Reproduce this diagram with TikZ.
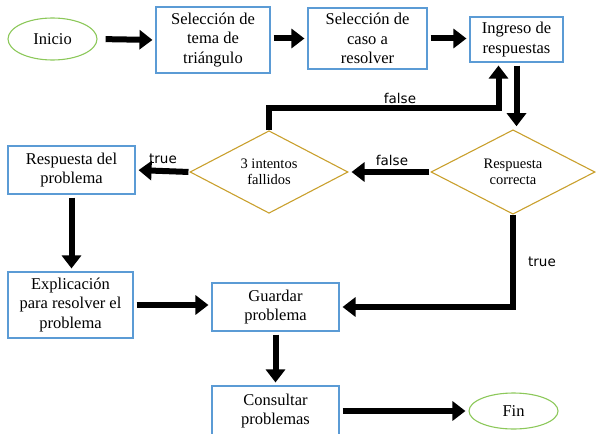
\documentclass[tikz,border=0pt]{standalone}
\usepackage{fontspec}
\setmainfont{Liberation Serif}
\newfontfamily\lblfont{DejaVu Sans}
\usetikzlibrary{arrows.meta,shapes.geometric}
\definecolor{boxblue}{RGB}{91,155,213}
\definecolor{dgold}{RGB}{201,160,45}
\definecolor{egreen}{RGB}{140,200,90}
\begin{document}
\begin{tikzpicture}[x=1pt,y=-1pt,
  procbox/.style={draw=boxblue, line width=1.1pt, align=center, inner sep=0pt,
    font=\fontsize{16.5}{19.5}\selectfont},
  decis/.style={draw=dgold, line width=1.1pt, diamond, align=center, inner sep=0pt,
    font=\fontsize{14.5}{16}\selectfont},
  term/.style={draw=egreen, line width=1.1pt, ellipse, inner sep=0pt,
    font=\fontsize{16.5}{19}\selectfont},
  arr/.style={line width=6pt, line join=miter, -{Triangle[length=13pt,width=19pt]},
    shorten <=3pt, shorten >=3pt},
  lbl/.style={font=\lblfont\fontsize{13.5}{15}\selectfont, inner sep=0pt}
]
\useasboundingbox (0,0) rectangle (596,433);

\node[term, minimum width=89pt, minimum height=42pt] (inicio) at (52.5,39) {Inicio};
\node[procbox, minimum width=114pt, minimum height=66pt] (s1) at (213,40) {Selección de\\tema de\\triángulo};
\node[procbox, minimum width=119pt, minimum height=61pt] (s2) at (367.5,38.5) {Selección de\\caso a\\resolver};
\node[procbox, minimum width=93pt, minimum height=45pt] (ing) at (516.5,39.5) {Ingreso de\\respuestas};
\node[decis, minimum width=164pt, minimum height=80pt] (rc) at (513,172) {Respuesta\\correcta};
\node[decis, minimum width=158pt, minimum height=79pt] (ti) at (269,172) {3 intentos\\fallidos};
\node[procbox, minimum width=127pt, minimum height=48pt] (rdp) at (71.5,170) {Respuesta del\\problema};
\node[procbox, minimum width=125pt, minimum height=66pt] (exp) at (70.5,305) {Explicación\\para resolver el\\problema};
\node[procbox, minimum width=127pt, minimum height=48pt] (gua) at (275.5,307) {Guardar\\problema};
\node[procbox, minimum width=127pt, minimum height=50pt] (con) at (275.5,411) {Consultar\\problemas};
\node[term, minimum width=89pt, minimum height=36pt] (fin) at (513.5,411) {Fin};

\draw[arr, shorten <=8pt] (inicio.east) -- (s1.west);
\draw[arr] (s1.east |- s2.west) -- (s2.west);
\draw[arr] (s2.east) -- (s2.east -| ing.west);
\draw[arr] (ing.south) -- (ing.south |- rc.north);
\draw[arr, shorten <=1pt] (rc.west) -- (ti.east);
\node[lbl] (lf1) at (392,160) {false};
\draw[arr, shorten <=0pt] (ti.north) -- ++(0,-22) -| ([xshift=-18pt]ing.south);
\node[lbl] (lf2) at (400,98) {false};
\draw[arr, shorten <=1pt] (ti.west) -- (rdp.east);
\node[lbl] (lt1) at (163,159) {true};
\draw[arr] (rdp.south) -- (rdp.south |- exp.north);
\draw[arr] (exp.east) -- (exp.east -| gua.west);
\draw[arr, shorten <=0pt] (rc.south) |- (gua.east);
\node[lbl] (lt2) at (542,262) {true};
\draw[arr] (gua.south) -- (con.north);
\draw[arr] (con.east) -- (fin.west);
\end{tikzpicture}
\end{document}
